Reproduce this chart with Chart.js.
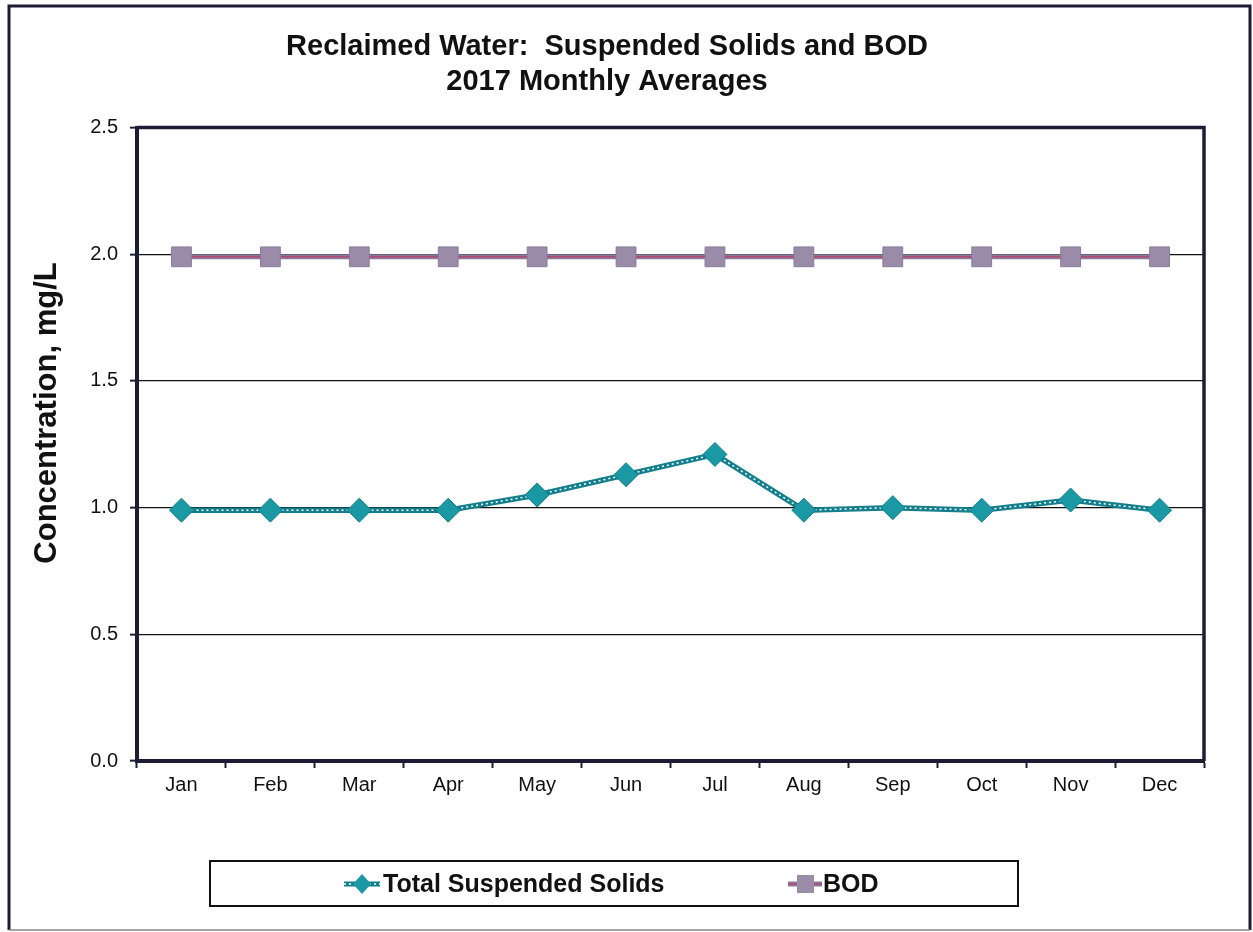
<!DOCTYPE html>
<html>
<head>
<meta charset="utf-8">
<script src="https://cdn.jsdelivr.net/npm/chart.js@4/dist/chart.umd.min.js"></script>
<style>
  html, body { margin: 0; padding: 0; background: #fff; }
  #wrap { width: 1253px; height: 932px; position: relative; }
</style>
</head>
<body>
<div id="wrap"><canvas id="c" width="1253" height="932"></canvas></div>
<script>
const months = ["Jan","Feb","Mar","Apr","May","Jun","Jul","Aug","Sep","Oct","Nov","Dec"];
const tssValues = [0.99, 0.99, 0.99, 0.99, 1.05, 1.13, 1.21, 0.99, 1.0, 0.99, 1.03, 0.99];
const bodValues = [1.99, 1.99, 1.99, 1.99, 1.99, 1.99, 1.99, 1.99, 1.99, 1.99, 1.99, 1.99];
const yTicks = [0, 0.5, 1.0, 1.5, 2.0, 2.5];
const seriesNames = ["Total Suspended Solids", "BOD"];
const titleLines = ["Reclaimed Water:  Suspended Solids and BOD", "2017 Monthly Averages"];
const yTitle = "Concentration, mg/L";

const FONT = '"Liberation Sans", Arial, sans-serif';
const NAVY = '#1c1c34';
const TEAL = '#1a98a4';
const TEAL_DARK = '#137f8c';
const BOD_FILL = '#9a8ca9';
const BOD_LINE = '#8c7a9c';
const BOD_CORE = '#b04a72';

const frame = {
  id: 'frame',
  beforeDraw(chart) {
    const ctx = chart.ctx;
    ctx.save();
    ctx.fillStyle = '#fff';
    ctx.fillRect(0, 0, chart.width, chart.height);
    ctx.restore();
  },
  afterDraw(chart) {
    const ctx = chart.ctx;
    const a = chart.chartArea;
    ctx.save();
    // outer border
    ctx.strokeStyle = NAVY;
    ctx.lineWidth = 3;
    ctx.beginPath();
    ctx.moveTo(9, 930); ctx.lineTo(9, 6); ctx.lineTo(1250, 6); ctx.lineTo(1250, 930);
    ctx.stroke();
    ctx.strokeStyle = '#888';
    ctx.lineWidth = 1.5;
    ctx.beginPath(); ctx.moveTo(9, 930); ctx.lineTo(1250, 930); ctx.stroke();
    // plot top/right frame
    ctx.strokeStyle = NAVY;
    ctx.lineWidth = 3.5;
    ctx.beginPath();
    ctx.moveTo(a.left, a.top); ctx.lineTo(a.right, a.top); ctx.lineTo(a.right, a.bottom);
    ctx.stroke();
    // y axis title
    ctx.save();
    ctx.translate(47, 413);
    ctx.rotate(-Math.PI / 2);
    ctx.fillStyle = '#111';
    ctx.font = 'bold 31px ' + FONT;
    ctx.textAlign = 'center';
    ctx.textBaseline = 'middle';
    ctx.fillText(yTitle, 0, 0);
    ctx.restore();
    // legend box
    ctx.strokeStyle = '#111';
    ctx.lineWidth = 2;
    ctx.strokeRect(210, 861, 808, 45);
    const cy = 884;
    // TSS symbol
    ctx.strokeStyle = TEAL_DARK; ctx.lineWidth = 5;
    ctx.beginPath(); ctx.moveTo(344, cy); ctx.lineTo(380, cy); ctx.stroke();
    ctx.strokeStyle = '#fff'; ctx.lineWidth = 1.5; ctx.setLineDash([2, 3]);
    ctx.beginPath(); ctx.moveTo(344, cy); ctx.lineTo(380, cy); ctx.stroke();
    ctx.setLineDash([]);
    ctx.fillStyle = TEAL;
    ctx.beginPath(); ctx.moveTo(362, cy - 10); ctx.lineTo(371, cy); ctx.lineTo(362, cy + 10); ctx.lineTo(353, cy); ctx.closePath(); ctx.fill();
    // BOD symbol
    ctx.strokeStyle = BOD_LINE; ctx.lineWidth = 5;
    ctx.beginPath(); ctx.moveTo(788, cy); ctx.lineTo(822, cy); ctx.stroke();
    ctx.strokeStyle = BOD_CORE; ctx.lineWidth = 1.5;
    ctx.beginPath(); ctx.moveTo(788, cy); ctx.lineTo(822, cy); ctx.stroke();
    ctx.fillStyle = BOD_FILL;
    ctx.fillRect(797, cy - 9, 17, 18);
    // texts
    ctx.fillStyle = '#111';
    ctx.font = 'bold 25px ' + FONT;
    ctx.textBaseline = 'middle';
    ctx.textAlign = 'left';
    ctx.fillText(seriesNames[0], 383, cy + 1);
    ctx.fillText(seriesNames[1], 823, cy + 1);
    ctx.restore();
  }
};

new Chart(document.getElementById('c'), {
  type: 'line',
  data: {
    labels: months,
    datasets: [
      { label: seriesNames[0] + ' markers', data: tssValues, showLine: false, pointStyle: 'rectRot', pointRadius: 12, pointHoverRadius: 12, pointBackgroundColor: TEAL, pointBorderColor: TEAL_DARK, pointBorderWidth: 1 },
      { label: seriesNames[1] + ' markers', data: bodValues, showLine: false, pointStyle: 'rect', pointRadius: 14, pointHoverRadius: 14, pointBackgroundColor: BOD_FILL, pointBorderColor: BOD_LINE, pointBorderWidth: 1 },
      { label: seriesNames[0] + ' core', data: tssValues, borderColor: '#ffffff', borderWidth: 1.5, borderDash: [2, 3], pointRadius: 0, tension: 0 },
      { label: seriesNames[1] + ' core', data: bodValues, borderColor: BOD_CORE, borderWidth: 1.5, pointRadius: 0, tension: 0 },
      { label: seriesNames[0], data: tssValues, borderColor: TEAL_DARK, borderWidth: 5.5, pointRadius: 0, tension: 0 },
      { label: seriesNames[1], data: bodValues, borderColor: BOD_LINE, borderWidth: 5, pointRadius: 0, tension: 0 }
    ]
  },
  options: {
    responsive: false,
    animation: false,
    events: [],
    layout: { padding: { left: 10, right: 49, top: 0, bottom: 131 } },
    plugins: {
      legend: { display: false },
      tooltip: { enabled: false },
      title: {
        display: true,
        text: titleLines,
        color: '#111',
        font: { family: FONT, size: 29, weight: 'bold', lineHeight: 1.2 },
        padding: { top: 30, bottom: 28 }
      }
    },
    scales: {
      x: {
        type: 'category',
        offset: true,
        afterFit(scale) { scale.height = 40; },
        grid: { display: true, drawOnChartArea: false, drawTicks: true, tickLength: 7, tickColor: NAVY, tickWidth: 2, offset: true },
        border: { display: true, color: NAVY, width: 4 },
        ticks: { color: '#111', font: { family: FONT, size: 20 }, padding: 5 }
      },
      y: {
        min: 0, max: 2.5,
        afterFit(scale) { scale.width = 127; },
        afterBuildTicks(scale) { scale.ticks = yTicks.map(v => ({ value: v })); },
        grid: { color: '#111', lineWidth: 1.3, drawTicks: true, tickLength: 7, tickColor: NAVY, tickWidth: 2 },
        border: { display: true, color: NAVY, width: 4 },
        ticks: { color: '#111', font: { family: FONT, size: 20 }, padding: 12, callback: v => Number(v).toFixed(1) },
        title: { display: false }
      }
    }
  },
  plugins: [frame]
});
</script>
</body>
</html>
